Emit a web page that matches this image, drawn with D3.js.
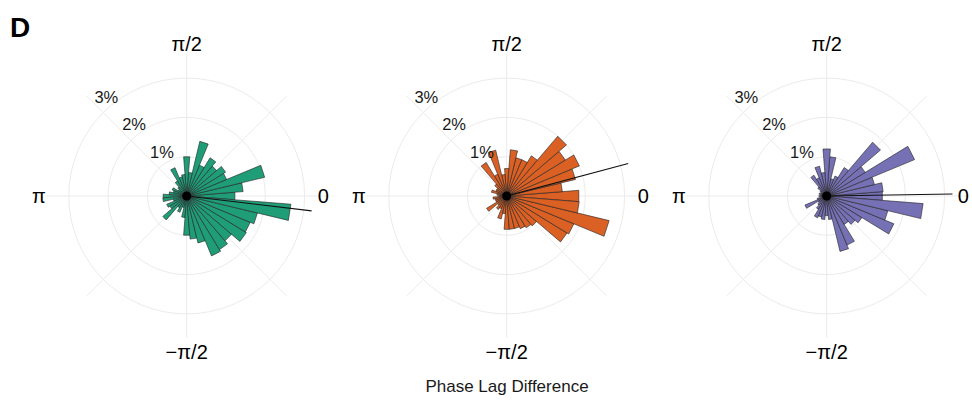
<!DOCTYPE html>
<html>
<head>
<meta charset="utf-8">
<script src="https://cdn.jsdelivr.net/npm/d3@7"></script>
<style>
  html, body { margin: 0; padding: 0; background: #fff; }
  svg { display: block; font-family: "Liberation Sans", Arial, sans-serif; }
</style>
</head>
<body>
<svg id="chart" width="972" height="403"></svg>
<script>
// Bin centres in degrees (counter-clockwise from 0), 40 bins of 9°
const binCenters = d3.range(0, 360, 9);
const binWidth = 9;

// Percentage of observations per bin, in the order of binCenters
const groupA = [1.23, 1.44, 2.04, 1.10, 1.16, 1.00, 1.14, 0.85, 1.43, 0.60,
                1.00, 0.55, 0.50, 0.78, 0.45, 0.30, 0.25, 0.40, 0.35, 0.45,
                0.60, 0.61, 0.35, 0.55, 0.50, 0.80, 0.35, 0.45, 0.30, 0.55,
                1.00, 1.10, 1.23, 1.65, 1.60, 1.50, 1.78, 1.75, 1.85, 2.66];
const groupB = [1.84, 1.42, 1.80, 2.00, 1.75, 2.00, 1.20, 1.00, 1.00, 1.18,
                0.70, 0.55, 1.20, 0.60, 1.00, 0.40, 0.30, 0.30, 0.40, 0.25,
                0.20, 0.35, 0.30, 0.30, 0.60, 0.30, 0.40, 0.35, 0.60, 0.45,
                0.85, 0.85, 0.85, 0.90, 0.95, 1.00, 1.80, 1.85, 2.68, 1.85];
const groupC = [1.42, 1.44, 1.25, 2.42, 1.15, 1.80, 0.85, 0.55, 0.45, 1.00,
                1.20, 0.60, 0.78, 0.50, 0.62, 0.30, 0.20, 0.15, 0.20, 0.15,
                0.20, 0.15, 0.25, 0.60, 0.25, 0.30, 0.40, 0.60, 0.55, 0.60,
                0.50, 0.60, 1.45, 1.35, 0.85, 0.95, 1.05, 1.85, 1.60, 2.46];

// Mean direction (degrees) and drawn length (%) of each group's mean vector
const meanAngles = [-6.8, 15.0, 0.9];
const meanLengths = [3.2, 3.2, 3.2];

const seriesValues = [groupA, groupB, groupC];
const seriesColors = ["#1f9d77", "#da6024", "#7671b4"];

// Axis labels
const radialTicks = [1, 2, 3];
const radialTickLabels = ["1%", "2%", "3%"];
const angleLabels = ["0", "π/2", "π", "−π/2"];
const xTitle = "Phase Lag Difference";
const panelTag = "D";

const svg = d3.select("#chart");
const centers = [186.7, 506.7, 826.7];
const cy = 196;

const r = d3.scaleLinear().domain([0, 3.6]).range([0, 141.5]);
const rad = d => d * Math.PI / 180;
// math angle (ccw from east) -> d3 radial angle (cw from north)
const toD3 = deg => Math.PI / 2 - rad(deg);

seriesValues.forEach((vals, i) => {
  const g = svg.append("g").attr("transform", `translate(${centers[i]},${cy})`);

  // grid circles
  g.selectAll("circle.grid").data(radialTicks).join("circle")
    .attr("class", "grid")
    .attr("r", d => r(d))
    .attr("fill", "none")
    .attr("stroke", "#ebebeb")
    .attr("stroke-width", 1);

  // radial grid lines every 45°
  g.selectAll("line.spoke").data(d3.range(0, 360, 45)).join("line")
    .attr("class", "spoke")
    .attr("x1", 0).attr("y1", 0)
    .attr("x2", d => r(3.6) * Math.cos(rad(d)))
    .attr("y2", d => -r(3.6) * Math.sin(rad(d)))
    .attr("stroke", "#ebebeb")
    .attr("stroke-width", 1);

  // wedges with straight outer ends
  const wedge = d3.lineRadial()
    .angle(p => p[0]).radius(p => p[1])
    .curve(d3.curveLinearClosed);

  g.selectAll("path.bar").data(binCenters.map((c, k) => ({ c, v: vals[k] }))).join("path")
    .attr("class", "bar")
    .attr("d", d => wedge([
      [toD3(d.c - binWidth / 2), 0],
      [toD3(d.c - binWidth / 2), r(d.v)],
      [toD3(d.c + binWidth / 2), r(d.v)]
    ]))
    .attr("fill", seriesColors[i])
    .attr("stroke", "#222")
    .attr("stroke-width", 0.6)
    .attr("stroke-linejoin", "miter");

  // mean direction line
  g.append("line")
    .attr("x1", 0).attr("y1", 0)
    .attr("x2", r(meanLengths[i]) * Math.cos(rad(meanAngles[i])))
    .attr("y2", -r(meanLengths[i]) * Math.sin(rad(meanAngles[i])))
    .attr("stroke", "#111")
    .attr("stroke-width", 1.1);

  g.append("circle").attr("r", 4.5).attr("fill", "#000");

  // radial tick labels along the upper-left diagonal
  g.selectAll("text.rtick").data(radialTicks).join("text")
    .attr("class", "rtick")
    .attr("x", d => -r(d) * Math.SQRT1_2 + 3)
    .attr("y", d => -r(d) * Math.SQRT1_2 - 16)
    .attr("text-anchor", "middle")
    .attr("dominant-baseline", "central")
    .attr("font-size", 16.5)
    .attr("fill", "#1a1a1a")
    .text((d, k) => radialTickLabels[k]);

  // angular labels
  const aPos = [
    { x: 131, y: 0, anchor: "start" },
    { x: 0, y: -152, anchor: "middle" },
    { x: -141, y: 0, anchor: "end" },
    { x: 0, y: 156, anchor: "middle" }
  ];
  angleLabels.forEach((t, k) => {
    g.append("text")
      .attr("x", aPos[k].x).attr("y", aPos[k].y)
      .attr("text-anchor", aPos[k].anchor)
      .attr("dominant-baseline", "central")
      .attr("font-size", 20)
      .attr("fill", "#000")
      .text(t);
  });
});

svg.append("text")
  .attr("x", 507).attr("y", 386)
  .attr("text-anchor", "middle")
  .attr("dominant-baseline", "central")
  .attr("font-size", 17)
  .attr("fill", "#1a1a1a")
  .text(xTitle);

svg.append("text")
  .attr("x", 10).attr("y", 37)
  .attr("font-size", 28)
  .attr("font-weight", "bold")
  .attr("fill", "#000")
  .text(panelTag);
</script>
</body>
</html>
